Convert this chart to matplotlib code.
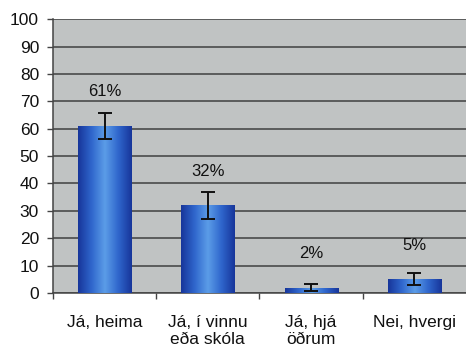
import matplotlib
matplotlib.use("Agg")
import matplotlib.pyplot as plt
import numpy as np
from matplotlib.colors import LinearSegmentedColormap

categories = ["Já, heima", "Já, í vinnu\neða skóla", "Já, hjá\nöðrum", "Nei, hvergi"]
values = [61, 32, 2, 5]
errors = [4.6, 4.8, 1.3, 2.2]
yticks = [0, 10, 20, 30, 40, 50, 60, 70, 80, 90, 100]

plt.rcParams["font.family"] = ["Liberation Sans", "DejaVu Sans"]

fig = plt.figure(figsize=(4.66, 3.48), dpi=100)
ax = fig.add_axes([0.1137, 0.158, 0.8863, 0.787])
ax.set_facecolor("#c0c3c3")

x = np.arange(len(categories))
width = 0.515
bars = ax.bar(x, values, width=width, color="none", edgecolor="none", zorder=3)

# horizontal gradient fill clipped to each bar
cmap = LinearSegmentedColormap.from_list(
    "barblue", ["#17359a", "#2f66cc", "#5c9de8", "#2f66cc", "#17359a"])
grad = np.linspace(0, 1, 256).reshape(1, -1)
for b in bars:
    x0, y0 = b.get_x(), b.get_y()
    w, h = b.get_width(), b.get_height()
    im = ax.imshow(grad, cmap=cmap, aspect="auto",
                   extent=(x0, x0 + w, y0, y0 + h), zorder=3,
                   interpolation="bicubic")
    im.set_clip_path(b)

ax.errorbar(x, values, yerr=errors, fmt="none", ecolor="#111111",
            elinewidth=1.4, capsize=5, capthick=1.4, zorder=4)

for xi, v in zip(x, values):
    ax.text(xi, v + 12.5, f"{v}%", ha="center", va="center",
            fontsize=12, color="#111111", zorder=5)

ax.set_xlim(-0.5, len(categories) - 0.5)
ax.set_ylim(0, 100)
ax.set_yticks(yticks)
ax.tick_params(axis="y", direction="out", length=4, width=1,
               color="#444444", labelsize=12.5, pad=6, labelcolor="#111111")

ax.set_xticks(x)
ax.set_xticklabels(categories, fontsize=12.5, color="#111111", linespacing=1.12,
                   va="top")
ax.tick_params(axis="x", which="major", length=0, pad=16)
ax.set_xticks(np.arange(-0.5, len(categories) - 0.5, 1.0), minor=True)
ax.tick_params(axis="x", which="minor", direction="out", length=4, width=1,
               color="#444444")

ax.yaxis.grid(True, color="#4a4a4a", linewidth=1.2, zorder=1)
ax.set_axisbelow(True)
for s in ["top", "right"]:
    ax.spines[s].set_visible(False)
ax.spines["left"].set_color("#444444")
ax.spines["bottom"].set_color("#444444")
ax.spines["left"].set_linewidth(1.1)
ax.spines["bottom"].set_linewidth(1.1)

fig.savefig("out.png", dpi=100)
